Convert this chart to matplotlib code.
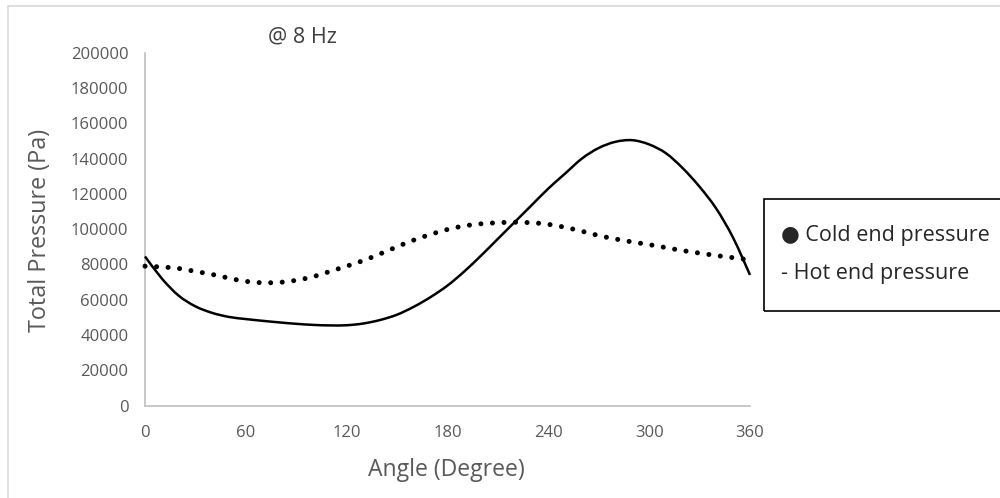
import matplotlib
matplotlib.use("Agg")
import matplotlib.pyplot as plt
from matplotlib.patches import Rectangle, PathPatch
from matplotlib.path import Path

# ---- data ----
angles = [0, 10, 20, 30, 40, 50, 60, 70, 80, 90, 100, 110, 120, 130, 140, 150, 160, 170, 180,
          190, 200, 210, 220, 230, 240, 250, 260, 270, 280, 290, 300, 310, 320, 330, 340, 350, 360]
hot_end = [84500, 72000, 62300, 56200, 52500, 50200, 49000, 48000, 47100, 46300, 45700, 45400,
           45500, 46500, 48500, 51500, 56000, 61500, 68000, 76000, 85000, 94500, 104000, 113500,
           123000, 131500, 140000, 146000, 149500, 150400, 148000, 143000, 134500, 124000,
           111500, 95000, 74000]
cold_end = [79000, 78500, 77700, 76000, 74300, 72200, 70400, 69600, 69800, 71000, 73000, 76000,
            79000, 82200, 86000, 90000, 93800, 97000, 99800, 101800, 103000, 103600, 103900,
            103600, 102700, 101000, 98800, 96300, 94400, 92700, 91200, 89500, 87800, 86400,
            85000, 83800, 82500]
x_ticks = [0, 60, 120, 180, 240, 300, 360]
y_ticks = [0, 20000, 40000, 60000, 80000, 100000, 120000, 140000, 160000, 180000, 200000]
title_text = "@ 8 Hz"
x_label = "Angle (Degree)"
y_label = "Total Pressure (Pa)"
legend_lines = ["\u25CF Cold end pressure", "- Hot end pressure"]

plt.rcParams['font.family'] = ['Open Sans', 'DejaVu Sans']

W, H = 1000, 498
fig = plt.figure(figsize=(W / 100, H / 100), dpi=100)
fig.patch.set_facecolor('white')


def fx(px):
    return px / W


def fy(py):
    return (H - py) / H


def smooth_path(xs, ys):
    """Smoothed line through the data points (like a spreadsheet 'smoothed line')."""
    pts = list(zip(xs, ys))
    n = len(pts)
    verts = [pts[0]]
    codes = [Path.MOVETO]
    for i in range(n - 1):
        p0 = pts[i - 1] if i > 0 else pts[i]
        p1 = pts[i]
        p2 = pts[i + 1]
        p3 = pts[i + 2] if i + 2 < n else pts[i + 1]
        c1 = (p1[0] + (p2[0] - p0[0]) / 6.0, p1[1] + (p2[1] - p0[1]) / 6.0)
        c2 = (p2[0] - (p3[0] - p1[0]) / 6.0, p2[1] - (p3[1] - p1[1]) / 6.0)
        verts += [c1, c2, p2]
        codes += [Path.CURVE4, Path.CURVE4, Path.CURVE4]
    return Path(verts, codes)


# outer chart border (extends beyond the right/bottom of the image)
fig.patches.append(Rectangle((fx(8.3), fy(520)), 1.2, fy(6.3) - fy(520), transform=fig.transFigure,
                             fill=False, edgecolor='#d9d9d9', linewidth=1.2))

ax_l, ax_r, ax_t, ax_b = 145, 750, 52.7, 405.5
ax = fig.add_axes([fx(ax_l), fy(ax_b), fx(ax_r) - fx(ax_l), fy(ax_t) - fy(ax_b)])

cold_patch = PathPatch(smooth_path(angles, cold_end), fill=False, edgecolor='black',
                       linewidth=3.6, linestyle=(0, (0.01, 2.3)), capstyle='round', zorder=3,
                       clip_on=False)
hot_patch = PathPatch(smooth_path(angles, hot_end), fill=False, edgecolor='black',
                      linewidth=1.8, joinstyle='round', capstyle='butt', zorder=4, clip_on=False)
ax.add_patch(cold_patch)
ax.add_patch(hot_patch)

ax.set_xlim(0, 360)
ax.set_ylim(0, 200000)
ax.set_xticks(x_ticks)
ax.set_yticks(y_ticks)
ax.set_xticklabels([str(v) for v in x_ticks])
ax.set_yticklabels([str(v) for v in y_ticks])
ax.tick_params(axis='both', length=0, labelsize=12, labelcolor='#595959')
ax.tick_params(axis='x', pad=14)
ax.tick_params(axis='y', pad=12)
for s in ['top', 'right']:
    ax.spines[s].set_visible(False)
for s in ['left', 'bottom']:
    ax.spines[s].set_color('#bfbfbf')
    ax.spines[s].set_linewidth(1.2)
ax.set_facecolor('none')

fig.text(fx(446), fy(470), x_label, ha='center', va='center', fontsize=16.6, color='#595959')
fig.text(fx(40), fy(230), y_label, ha='center', va='center', rotation=90, fontsize=16.8,
         color='#595959')
fig.text(fx(302), fy(37), title_text, ha='center', va='center', fontsize=15.5, color='#404040')

# legend text box (extends beyond the right edge)
fig.patches.append(Rectangle((fx(764), fy(310.7)), 0.3, fy(199.3) - fy(310.7),
                             transform=fig.transFigure, fill=False, edgecolor='black',
                             linewidth=1.2))
fig.text(fx(781), fy(235), legend_lines[0], ha='left', va='center', fontsize=15.5, color='#262626')
fig.text(fx(781), fy(273), legend_lines[1], ha='left', va='center', fontsize=15.5, color='#262626')

fig.savefig('out.png', dpi=100, facecolor='white')
